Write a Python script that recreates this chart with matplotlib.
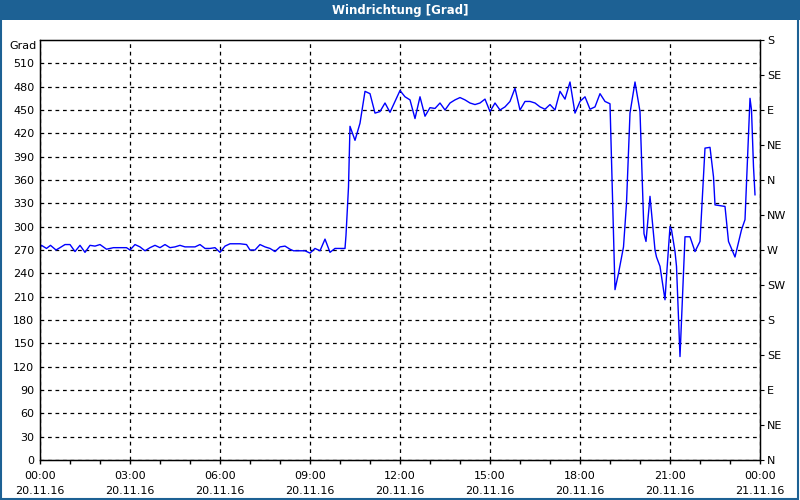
import matplotlib.pyplot as plt
from matplotlib.patches import Rectangle

# minutes since 00:00 20.11.16 and wind direction in degrees
minutes = [0, 3, 13, 21, 32, 40, 50, 60, 70, 80, 90, 100, 110, 120, 133, 147, 160, 173, 180,
           190, 200, 210, 220, 230, 240, 250, 260, 270, 280, 290, 300, 310, 320, 330, 340,
           350, 360, 370, 380, 390, 400, 413, 420, 430, 440, 450, 460, 470, 480, 490, 500,
           507, 520, 530, 540, 550, 560, 570, 580, 590, 600, 610, 612, 617, 620, 630, 640,
           650, 660, 670, 680, 690, 700, 710, 720, 730, 740, 750, 760, 770, 780, 790, 800,
           810, 820, 830, 840, 850, 860, 870, 880, 890, 900, 910, 920, 930, 940, 950, 960,
           970, 980, 990, 1000, 1010, 1020, 1030, 1040, 1050, 1060, 1070, 1080, 1090, 1100,
           1110, 1120, 1130, 1140, 1143, 1147, 1150, 1157, 1167, 1173, 1180, 1190, 1200,
           1208, 1212, 1217, 1220, 1230, 1233, 1240, 1250, 1253, 1260, 1263, 1270, 1273,
           1280, 1283, 1287, 1290, 1300, 1310, 1320, 1327, 1330, 1340, 1347, 1350, 1370,
           1377, 1390, 1403, 1410, 1413, 1420, 1423, 1427, 1430]
grad = [273, 276, 272, 276, 270, 273, 277, 277, 268, 276, 267, 276, 275, 277, 271, 273, 273, 273,
        270, 277, 274, 269, 273, 276, 273, 277, 273, 274, 276, 274, 274, 274, 277, 272, 272,
        273, 267, 275, 278, 278, 278, 277, 270, 270, 277, 274, 272, 268, 274, 275, 271, 269,
        269, 269, 266, 272, 269, 284, 267, 272, 272, 272, 289, 351, 429, 411, 433, 474, 471,
        446, 448, 459, 447, 461, 475, 467, 463, 439, 467, 442, 453, 452, 459, 450, 459, 463,
        466, 463, 459, 457, 459, 464, 448, 459, 450, 454, 461, 478, 450, 461, 461, 459, 454,
        451, 457, 450, 474, 464, 486, 446, 461, 467, 451, 454, 471, 461, 458, 386, 291, 219,
        240, 274, 330, 446, 486, 448, 291, 281, 317, 339, 270, 261, 249, 206, 236, 300, 296,
        268, 249, 133, 180, 240, 287, 287, 268, 281, 364, 401, 402, 364, 328, 326, 281, 261,
        296, 309, 356, 465, 450, 377, 341]

hours = [m / 60 for m in minutes]

left_ticks = list(range(0, 511, 30))
right_ticks = list(range(0, 541, 45))
right_labels = ['N', 'NE', 'E', 'SE', 'S', 'SW', 'W', 'NW', 'N', 'NE', 'E', 'SE', 'S']
x_ticks = list(range(0, 25, 3))
x_labels = ['00:00\n20.11.16', '03:00\n20.11.16', '06:00\n20.11.16', '09:00\n20.11.16',
            '12:00\n20.11.16', '15:00\n20.11.16', '18:00\n20.11.16', '21:00\n20.11.16',
            '00:00\n21.11.16']

plt.rcParams['font.family'] = ['DejaVu Sans']
fig = plt.figure(figsize=(8, 5), dpi=100)
fig.patch.set_facecolor('white')

# title bar and outer border
fig.patches.append(Rectangle((0, 0.96), 1, 0.04, transform=fig.transFigure,
                             facecolor='#1d6194', edgecolor='none', zorder=0))
fig.patches.append(Rectangle((0.001, 0.002), 0.997, 0.996, transform=fig.transFigure,
                             facecolor='none', edgecolor='#1d6194', linewidth=1.5, zorder=5))
fig.text(0.5, 0.979, 'Windrichtung [Grad]', color='white', fontsize=8.5, fontweight='bold',
         ha='center', va='center')

ax = fig.add_axes([0.05, 0.08, 0.9, 0.84])
ax.plot(hours, grad, color='#0000ff', linewidth=1)

ax.set_xlim(0, 24)
ax.set_ylim(0, 540)
ax.set_xticks(x_ticks)
ax.set_xticklabels(x_labels, fontsize=8, linespacing=1.6)
ax.set_xticks(range(0, 25), minor=True)
ax.set_yticks(left_ticks)
ax.set_yticklabels([str(v) for v in left_ticks], fontsize=8)
ax.tick_params(axis='y', length=0, pad=4)
ax.tick_params(axis='x', which='both', length=3, direction='out', pad=5, width=1)

ax.grid(True, which='major', color='black', linestyle=(0, (3, 3)), linewidth=0.9)
for s in ax.spines.values():
    s.set_color('black')
    s.set_linewidth(1)

ax2 = ax.twinx()
ax2.set_ylim(0, 540)
ax2.set_yticks(right_ticks)
ax2.set_yticklabels(right_labels, fontsize=8)
ax2.tick_params(axis='y', length=3, direction='out', pad=2)

ax.text(-0.004, 0.985, 'Grad', transform=ax.transAxes, fontsize=8, ha='right', va='center')

fig.savefig('out.png', dpi=100)
